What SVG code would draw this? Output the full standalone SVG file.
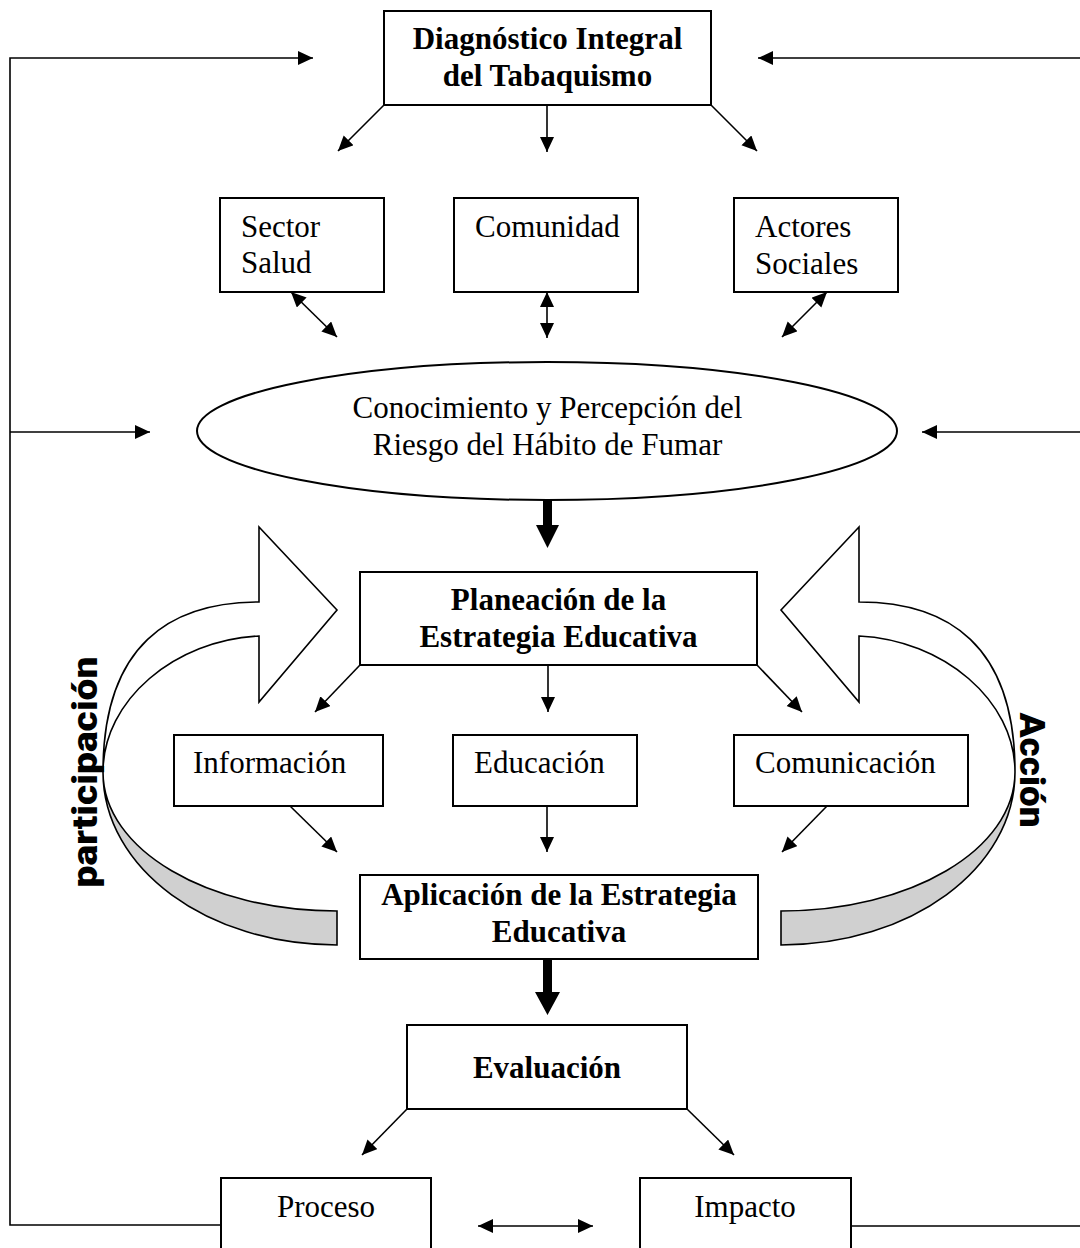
<svg xmlns="http://www.w3.org/2000/svg" width="1080" height="1248" viewBox="0 0 1080 1248">
<style>
.box{fill:#fff;stroke:#000;stroke-width:2}
.t{font-family:"Liberation Serif","Times New Roman",serif;font-size:31px;fill:#000}
.b{font-weight:bold}
.c{stroke:#000;stroke-width:1.6;fill:none}
.thick{fill:#000;stroke:none}
.rib{stroke:#000;stroke-width:1.6}
.wm{font-family:"Arial Black","Roboto","Inter","DejaVu Sans",sans-serif;font-weight:900;font-size:35px;fill:#000}
</style>
<defs>
<marker id="ah" markerUnits="userSpaceOnUse" markerWidth="16" markerHeight="16" refX="15" refY="7" orient="auto-start-reverse">
<path d="M0,0 L15,7 L0,14 z" fill="#000"/>
</marker>
<g id="curvedArrow">
<path class="rib" fill="#fff" d="M103,772 C103,645 170,602 259,602 L259,527 L337,610 L259,702 L259,636 C175,640 103,700 103,772 Z"/>
<path class="rib" fill="#d0d0d0" d="M103,772 C103,869 208,945 337,945 L337,911 C208,911 103,850 103,772 Z"/>
</g>
</defs>
<rect width="1080" height="1248" fill="#fff"/>

<g id="ribbon-left"><use href="#curvedArrow"/></g>
<g id="ribbon-right"><use href="#curvedArrow" transform="translate(1118,0) scale(-1,1)"/></g>
<g id="label-participacion"><text class="wm" transform="translate(97,772) rotate(-90)" text-anchor="middle" textLength="231" lengthAdjust="spacingAndGlyphs">participación</text></g>
<g id="label-accion"><text class="wm" transform="translate(1020,770) rotate(90)" text-anchor="middle" textLength="115" lengthAdjust="spacingAndGlyphs">Acción</text></g>

<g id="connectors">
<path class="c" d="M221,1225 H10 V58 H313" marker-end="url(#ah)"/>
<path class="c" d="M10,432 H150" marker-end="url(#ah)"/>
<path class="c" d="M851,1226 H1083 V58 H758" marker-end="url(#ah)"/>
<path class="c" d="M1083,432 H922" marker-end="url(#ah)"/>
<path class="c" d="M384,105 L338,151" marker-end="url(#ah)"/>
<path class="c" d="M547,105 L547,152" marker-end="url(#ah)"/>
<path class="c" d="M711,105 L757,151" marker-end="url(#ah)"/>
<path class="c" d="M291,292 L337,337" marker-start="url(#ah)" marker-end="url(#ah)"/>
<path class="c" d="M547,292 L547,338" marker-start="url(#ah)" marker-end="url(#ah)"/>
<path class="c" d="M827,292 L782,337" marker-start="url(#ah)" marker-end="url(#ah)"/>
<path class="thick" d="M543,500 H552 V525 H559 L547.5,548 L536,525 H543 Z"/>
<path class="c" d="M360,665 L315,712" marker-end="url(#ah)"/>
<path class="c" d="M548,665 L548,712" marker-end="url(#ah)"/>
<path class="c" d="M757,665 L802,712" marker-end="url(#ah)"/>
<path class="c" d="M290,806 L337,852" marker-end="url(#ah)"/>
<path class="c" d="M547,806 L547,852" marker-end="url(#ah)"/>
<path class="c" d="M827,806 L782,852" marker-end="url(#ah)"/>
<path class="thick" d="M543,959 H552 V992 H560 L547.5,1015 L535,992 H543 Z"/>
<path class="c" d="M407,1109 L362,1155" marker-end="url(#ah)"/>
<path class="c" d="M687,1109 L734,1155" marker-end="url(#ah)"/>
<path class="c" d="M478,1226 L593,1226" marker-start="url(#ah)" marker-end="url(#ah)"/>
</g>

<g id="diagnostico">
<rect class="box" x="384" y="11" width="327" height="94"/>
<text class="t b" x="547.5" y="49" text-anchor="middle">Diagnóstico Integral</text>
<text class="t b" x="547.5" y="86" text-anchor="middle">del Tabaquismo</text>
</g>
<g id="sector-salud">
<rect class="box" x="220" y="198" width="164" height="94"/>
<text class="t" x="241" y="237">Sector</text>
<text class="t" x="241" y="273">Salud</text>
</g>
<g id="comunidad">
<rect class="box" x="454" y="198" width="184" height="94"/>
<text class="t" x="475" y="237">Comunidad</text>
</g>
<g id="actores-sociales">
<rect class="box" x="734" y="198" width="164" height="94"/>
<text class="t" x="755" y="237">Actores</text>
<text class="t" x="755" y="274">Sociales</text>
</g>
<g id="conocimiento">
<ellipse class="box" cx="547" cy="431" rx="350" ry="69"/>
<text class="t" x="547.5" y="418" text-anchor="middle">Conocimiento y Percepción del</text>
<text class="t" x="547.5" y="455" text-anchor="middle">Riesgo del Hábito de Fumar</text>
</g>
<g id="planeacion">
<rect class="box" x="360" y="572" width="397" height="93"/>
<text class="t b" x="558.5" y="610" text-anchor="middle">Planeación de la</text>
<text class="t b" x="558.5" y="647" text-anchor="middle">Estrategia Educativa</text>
</g>
<g id="informacion">
<rect class="box" x="174" y="735" width="209" height="71"/>
<text class="t" x="193" y="773">Información</text>
</g>
<g id="educacion">
<rect class="box" x="453" y="735" width="184" height="71"/>
<text class="t" x="474" y="773">Educación</text>
</g>
<g id="comunicacion">
<rect class="box" x="734" y="735" width="234" height="71"/>
<text class="t" x="755" y="773">Comunicación</text>
</g>
<g id="aplicacion">
<rect class="box" x="360" y="875" width="398" height="84"/>
<text class="t b" x="559" y="905" text-anchor="middle">Aplicación de la Estrategia</text>
<text class="t b" x="559" y="942" text-anchor="middle">Educativa</text>
</g>
<g id="evaluacion">
<rect class="box" x="407" y="1025" width="280" height="84"/>
<text class="t b" x="547" y="1078" text-anchor="middle">Evaluación</text>
</g>
<g id="proceso">
<rect class="box" x="221" y="1178" width="210" height="80"/>
<text class="t" x="326" y="1217" text-anchor="middle">Proceso</text>
</g>
<g id="impacto">
<rect class="box" x="640" y="1178" width="211" height="80"/>
<text class="t" x="745" y="1217" text-anchor="middle">Impacto</text>
</g>
</svg>
